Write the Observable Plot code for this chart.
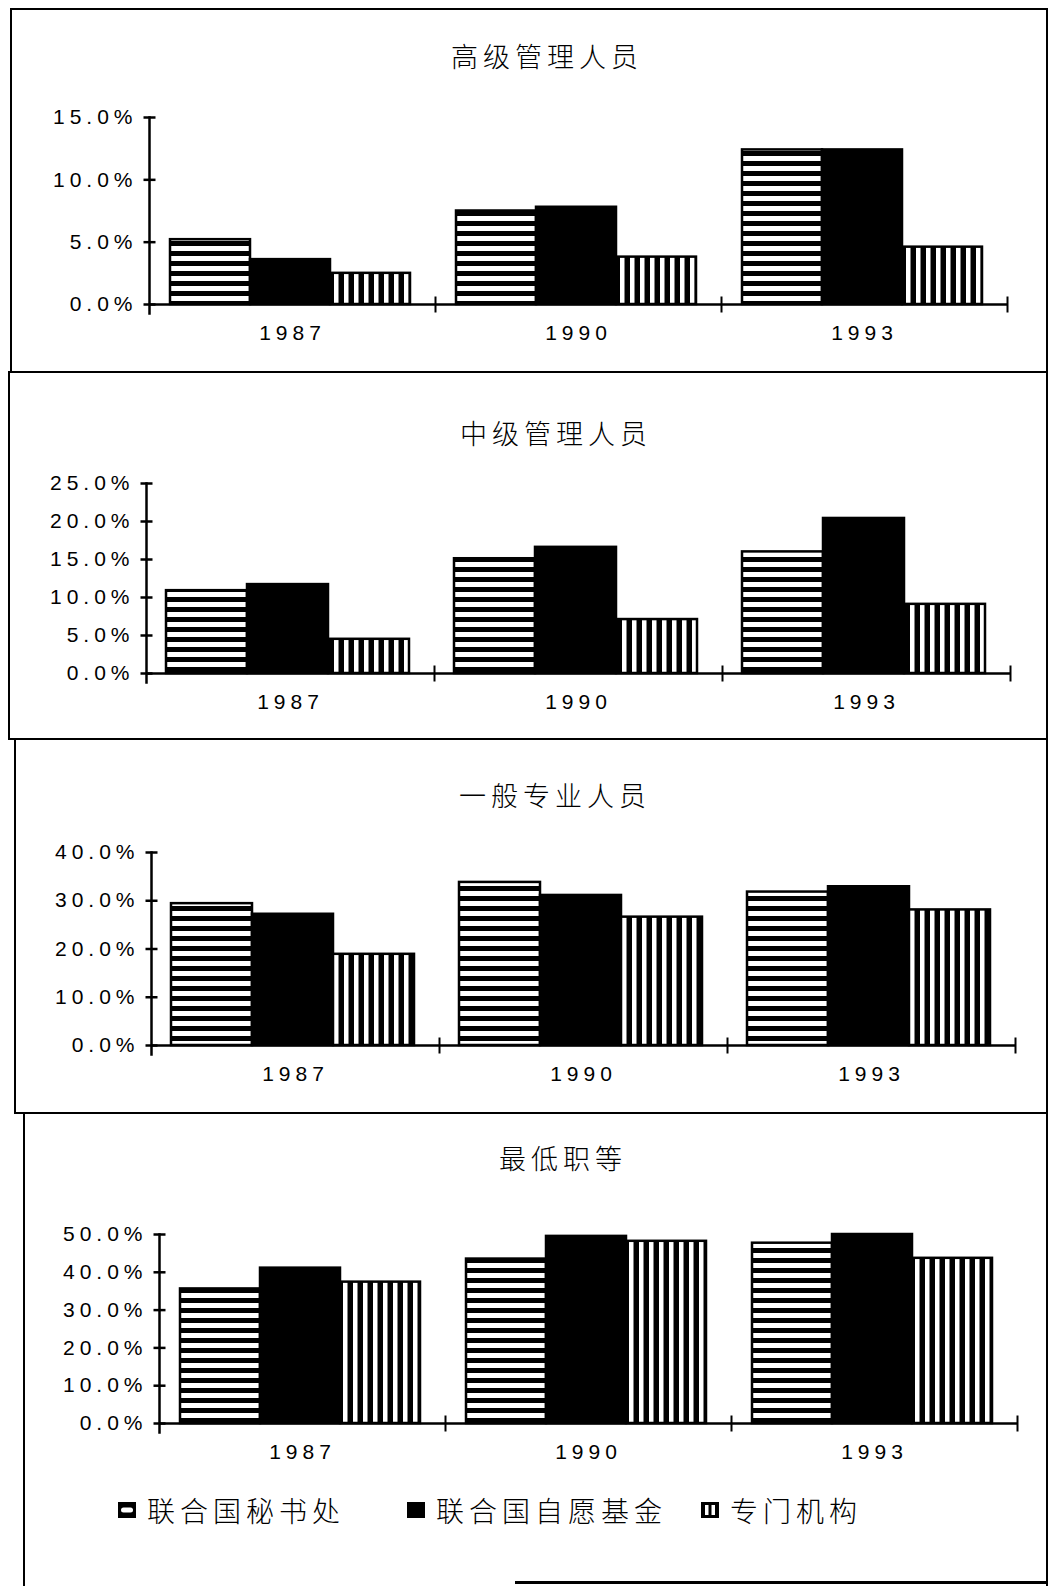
<!DOCTYPE html>
<html>
<head>
<meta charset="utf-8">
<script src="https://cdn.jsdelivr.net/npm/d3@7"></script>
<script src="https://cdn.jsdelivr.net/npm/@observablehq/plot@0.6"></script>
<style>
  html, body { margin: 0; padding: 0; background: #fff; }
  body { position: relative; width: 1051px; height: 1586px; overflow: hidden; }
  .box { position: absolute; border: 2.5px solid #000; box-sizing: border-box; }
  .title {
    position: absolute; white-space: nowrap; line-height: 1;
    font-family: "Noto Sans CJK SC", sans-serif; font-weight: 300;
    font-size: 27px; letter-spacing: 5px; color: #000;
    transform: translateX(-50%);
  }
  .chart { position: absolute; left: 0; }
  .legend-item { position: absolute; display: flex; align-items: center; white-space: nowrap; }
  .legend-item span {
    font-family: "Noto Sans CJK SC", sans-serif; font-weight: 300;
    font-size: 28px; letter-spacing: 5px; line-height: 1; margin-left: 10px;
  }
</style>
</head>
<body>
<svg width="0" height="0" style="position:absolute">
  <defs>
    <pattern id="hstripe" patternUnits="userSpaceOnUse" width="12" height="10">
      <rect width="12" height="10" fill="#000"/>
      <rect y="3" width="12" height="5" fill="#fff"/>
    </pattern>
    <pattern id="vstripe" patternUnits="userSpaceOnUse" width="10" height="12">
      <rect width="10" height="12" fill="#000"/>
      <rect x="3" width="4.5" height="12" fill="#fff"/>
    </pattern>
  </defs>
</svg>
<script>
// Staff distribution by grade, percentages
const years = ["1987", "1990", "1993"];
const series = ["联合国秘书处", "联合国自愿基金", "专门机构"];
const panelTitles = ["高级管理人员", "中级管理人员", "一般专业人员", "最低职等"];

// one row per series, one column per year
const senior = [[5.2, 7.5, 12.4], [3.6, 7.8, 12.4], [2.5, 3.8, 4.6]];
const middle = [[10.9, 15.1, 16.0], [11.7, 16.6, 20.4], [4.5, 7.1, 9.1]];
const professional = [[29.4, 33.8, 31.8], [27.2, 31.1, 32.9], [18.9, 26.6, 28.1]];
const lowest = [[35.6, 43.5, 47.7], [41.1, 49.5, 50.0], [37.4, 48.2, 43.7]];

const seniorTicks = [0, 5, 10, 15];
const middleTicks = [0, 5, 10, 15, 20, 25];
const professionalTicks = [0, 10, 20, 30, 40];
const lowestTicks = [0, 10, 20, 30, 40, 50];

const fills = ["url(#hstripe)", "#000", "url(#vstripe)"];

// page layout of each boxed panel
const layout = [
  {box: [10, 8, 1048, 373], titleX: 547, titleY: 56, axisX: 148, topY: 117, zeroY: 304, endX: 1008},
  {box: [8, 371, 1048, 740], titleX: 556, titleY: 433, axisX: 145, topY: 483, zeroY: 673, endX: 1011},
  {box: [14, 738, 1048, 1114], titleX: 555, titleY: 795, axisX: 150, topY: 852, zeroY: 1045, endX: 1015},
  {box: [23, 1112, 1048, 1590], titleX: 563, titleY: 1158, axisX: 159, topY: 1234, zeroY: 1423, endX: 1017}
];

// short line symbols for the crossing axis ticks
const hLine = {draw(ctx, size) { const r = Math.sqrt(size / Math.PI); ctx.moveTo(-r, 0); ctx.lineTo(r, 0); }};
const vLine = {draw(ctx, size) { const r = Math.sqrt(size / Math.PI); ctx.moveTo(0, -r); ctx.lineTo(0, r); }};

function drawPanel(title, values, ticks, L) {
  const [x0, y0, x1, y1] = L.box;
  const box = document.createElement("div");
  box.className = "box";
  Object.assign(box.style, {left: x0 + "px", top: y0 + "px", width: (x1 - x0) + "px", height: (y1 - y0) + "px"});
  document.body.appendChild(box);

  const t = document.createElement("div");
  t.className = "title";
  t.textContent = title;
  Object.assign(t.style, {left: L.titleX + "px", top: (L.titleY - 14) + "px"});
  document.body.appendChild(t);

  const rows = [];
  series.forEach((s, i) => years.forEach((y, j) => rows.push({series: s, year: y, value: values[i][j]})));

  const marginTop = 14, marginBottom = 54;
  const chart = Plot.plot({
    width: 1051,
    height: L.zeroY - L.topY + marginTop + marginBottom,
    marginLeft: L.axisX,
    marginRight: 1051 - L.endX,
    marginTop,
    marginBottom,
    style: {
      fontFamily: '"Liberation Sans", Arial, sans-serif',
      fontSize: "21px",
      letterSpacing: "5px",
      color: "#000",
      background: "transparent",
      overflow: "visible"
    },
    fx: {domain: years, padding: 0},
    x: {domain: series, paddingInner: 0, paddingOuter: 0.27, align: 0.45, axis: null},
    y: {domain: [0, ticks[ticks.length - 1]]},
    color: {domain: series, range: fills},
    marks: [
      Plot.barY(rows, {fx: "year", x: "series", y: "value", fill: "series", stroke: "#000", strokeWidth: 2.5}),
      Plot.ruleY([0], {stroke: "#000", strokeWidth: 2.5}),
      Plot.frame({anchor: "left", facetAnchor: "left", stroke: "#000", strokeWidth: 2.5, insetBottom: -9}),
      Plot.dot(ticks, {y: d => d, frameAnchor: "left", facetAnchor: "left", symbol: hLine, r: 6,
        fill: "none", stroke: "#000", strokeWidth: 2.5}),
      Plot.dot(years, {fx: d => d, x: null, y: null, frameAnchor: "bottom-right", symbol: vLine, r: 8,
        fill: "none", stroke: "#000", strokeWidth: 2}),
      Plot.axisY({ticks, tickSize: 0, tickPadding: 12, label: null, tickFormat: d => d.toFixed(1) + "%"}),
      Plot.axisFx({anchor: "bottom", tickSize: 0, tickPadding: 21, label: null})
    ]
  });
  chart.classList.add("chart");
  chart.style.top = (L.topY - marginTop) + "px";
  document.body.appendChild(chart);
}

drawPanel(panelTitles[0], senior, seniorTicks, layout[0]);
drawPanel(panelTitles[1], middle, middleTicks, layout[1]);
drawPanel(panelTitles[2], professional, professionalTicks, layout[2]);
drawPanel(panelTitles[3], lowest, lowestTicks, layout[3]);

// legend below the last panel
const legendX = [117, 406, 700];
const legendY = 1511;
const swatches = [
  '<rect x="1" y="1" width="18" height="16" fill="#000"/><rect x="4" y="6.5" width="12" height="5" rx="2.5" fill="#fff"/>',
  '<rect x="1" y="1" width="18" height="16" fill="#000"/>',
  '<rect x="1" y="1" width="18" height="16" fill="#000"/><rect x="5" y="4" width="3.5" height="10" fill="#fff"/><rect x="11.5" y="4" width="3.5" height="10" fill="#fff"/>'
];
series.forEach((s, i) => {
  const item = document.createElement("div");
  item.className = "legend-item";
  item.style.left = legendX[i] + "px";
  item.style.top = (legendY - 15) + "px";
  item.innerHTML = `<svg width="20" height="18" viewBox="0 0 20 18">${swatches[i]}</svg><span>${s}</span>`;
  document.body.appendChild(item);
});

// bottom edge of the last panel
const edge = document.createElement("div");
Object.assign(edge.style, {position: "absolute", left: "515px", top: "1581px", width: "533px", height: "3px", background: "#000"});
document.body.appendChild(edge);
</script>
</body>
</html>
